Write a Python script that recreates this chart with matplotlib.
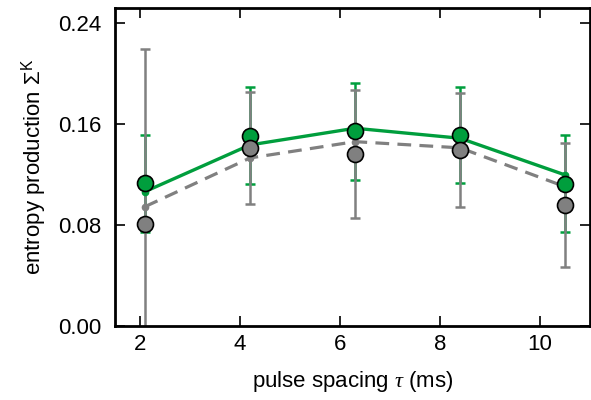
import matplotlib
matplotlib.use("Agg")
import matplotlib.pyplot as plt

plt.rcParams['font.family'] = ['Liberation Sans', 'DejaVu Sans']
plt.rcParams['mathtext.fontset'] = 'custom'
plt.rcParams['mathtext.rm'] = 'Liberation Sans'
plt.rcParams['mathtext.it'] = 'Liberation Serif:italic'

# data
tau = [2.1, 4.2, 6.3, 8.4, 10.5]
green_meas = [0.1129, 0.1504, 0.1540, 0.1508, 0.1124]
green_err = [0.0383, 0.0383, 0.0385, 0.0380, 0.0384]
gray_meas = [0.0807, 0.1407, 0.1360, 0.1393, 0.0957]
gray_err = [0.1385, 0.0442, 0.0508, 0.0449, 0.0489]
green_theory = [0.1063, 0.1432, 0.1564, 0.1485, 0.1195]
gray_theory = [0.0944, 0.1329, 0.1458, 0.1409, 0.1102]
xticks = [2, 4, 6, 8, 10]
yticks = [0.00, 0.08, 0.16, 0.24]

GREEN = '#009e3d'
GRAY = '#808080'

fig = plt.figure(figsize=(5.91, 4.0), dpi=100)
ax = fig.add_axes([0.1946, 0.185, 0.8037, 0.795])

ax.errorbar(tau, green_meas, yerr=green_err, fmt='none', ecolor=GREEN,
            elinewidth=1.8, capsize=3.6, capthick=1.8, zorder=2)
ax.errorbar(tau, gray_meas, yerr=gray_err, fmt='none', ecolor=GRAY,
            elinewidth=1.8, capsize=3.6, capthick=1.8, zorder=2.1)

ax.plot(tau, gray_theory, color=GRAY, lw=2.3, dashes=(4.3, 2.6),
        marker='o', ms=4.5, mec=GRAY, mfc=GRAY, zorder=3)
ax.plot(tau, green_theory, color=GREEN, lw=2.4,
        marker='o', ms=4.5, mec=GREEN, mfc=GREEN, zorder=3.1)

ax.plot(tau, green_meas, ls='none', marker='o', ms=11.5, mfc=GREEN,
        mec='black', mew=1.2, zorder=4)
ax.plot(tau, gray_meas, ls='none', marker='o', ms=11.5, mfc=GRAY,
        mec='black', mew=1.2, zorder=4.1)

ax.set_xlim(1.5, 11)
ax.set_ylim(0, 0.2515)
ax.set_xticks(xticks)
ax.set_xticklabels([str(t) for t in xticks])
ax.set_yticks(yticks)
ax.set_yticklabels([f'{v:.2f}' for v in yticks])

for s in ax.spines.values():
    s.set_linewidth(2.0)
ax.tick_params(direction='in', length=7, width=1.2, top=True, right=True,
               labelsize=16)
ax.tick_params(axis='x', pad=6)
ax.tick_params(axis='y', pad=10)

ax.set_xlabel(r'pulse spacing $\tau$ (ms)', fontsize=16, labelpad=10)
ax.set_ylabel(r'entropy production Σ$^{\rm K}$', fontsize=16, labelpad=6)

fig.savefig('out.png', dpi=100)
